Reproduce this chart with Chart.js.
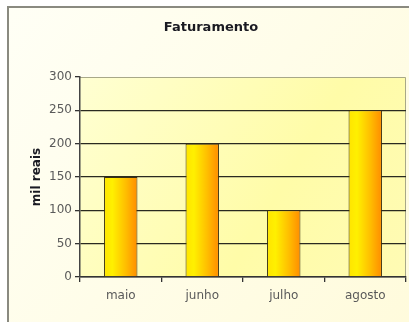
<!DOCTYPE html>
<html>
<head>
<meta charset="utf-8">
<script src="https://cdn.jsdelivr.net/npm/chart.js@4/dist/chart.umd.min.js"></script>
<style>
  html, body { margin: 0; padding: 0; background: #fff; }
  #wrap { width: 409px; height: 322px; }
</style>
</head>
<body>
<div id="wrap"><canvas id="chart" width="409" height="322"></canvas></div>
<script>
// Faturamento mensal (mil reais)
const meses = ['maio', 'junho', 'julho', 'agosto'];
const faturamento = [150, 200, 100, 250];
const yTicks = [0, 50, 100, 150, 200, 250, 300];

const BAR_PCT = 0.41;
const FONT = '"DejaVu Sans", Verdana, sans-serif';

// outer panel: cream fill, grey frame on left/top
const panelBg = {
    id: 'panelBg',
    beforeDraw(chart) {
        const { ctx, width, height } = chart;
        ctx.save();
        const g = ctx.createLinearGradient(0, 0, width, height);
        g.addColorStop(0, '#fffff6');
        g.addColorStop(1, '#fffbdc');
        ctx.fillStyle = g;
        ctx.fillRect(8, 7, width - 8, height - 7);
        ctx.strokeStyle = '#8a8a80';
        ctx.lineWidth = 2;
        ctx.beginPath();
        ctx.moveTo(8, height);
        ctx.lineTo(8, 7);
        ctx.lineTo(width, 7);
        ctx.stroke();

        // plot area fill
        const a = chart.chartArea;
        const pg = ctx.createLinearGradient(a.left, a.top, a.right, a.bottom);
        pg.addColorStop(0, '#ffffd2');
        pg.addColorStop(0.6, '#fffca8');
        pg.addColorStop(1, '#fffbb4');
        ctx.fillStyle = pg;
        ctx.fillRect(a.left, a.top, a.right - a.left, a.bottom - a.top);
        ctx.strokeStyle = '#a8a888';
        ctx.lineWidth = 1;
        ctx.beginPath();
        ctx.moveTo(a.left, a.top + 0.5);
        ctx.lineTo(a.right - 0.5, a.top + 0.5);
        ctx.lineTo(a.right - 0.5, a.bottom);
        ctx.stroke();

        // title
        ctx.fillStyle = '#1a1a22';
        ctx.font = 'bold 13px ' + FONT;
        ctx.textAlign = 'center';
        ctx.textBaseline = 'middle';
        ctx.fillText('Faturamento', 211, 28);
        ctx.restore();
    }
};

// yellow -> orange shading across each bar, from the x scale
function barShade(c) {
    const x = c.chart.scales.x;
    if (!x || c.dataIndex === undefined) return '#ffd000';
    const w = (x.right - x.left) / meses.length * BAR_PCT;
    const x0 = x.getPixelForValue(c.dataIndex) - w / 2;
    if (!isFinite(x0) || !isFinite(w) || w <= 0) return '#ffd000';
    const g = c.chart.ctx.createLinearGradient(x0, 0, x0 + w, 0);
    g.addColorStop(0, '#ffe400');
    g.addColorStop(0.25, '#fff000');
    g.addColorStop(0.65, '#ffbe00');
    g.addColorStop(1, '#ff8c00');
    return g;
}

new Chart(document.getElementById('chart'), {
    type: 'bar',
    data: {
        labels: meses,
        datasets: [{
            data: faturamento,
            backgroundColor: barShade,
            borderColor: '#3a3010',
            borderWidth: 1,
            barPercentage: BAR_PCT,
            categoryPercentage: 1
        }]
    },
    options: {
        responsive: false,
        animation: false,
        layout: { padding: { top: 77, left: 30, right: 3, bottom: 12 } },
        plugins: { legend: { display: false }, title: { display: false }, tooltip: { enabled: false } },
        scales: {
            x: {
                afterFit: s => { s.height = 33; },
                grid: { display: true, drawOnChartArea: false, offset: true, color: '#333', lineWidth: 1.3, tickLength: 5 },
                border: { color: '#333', width: 1.5 },
                ticks: { color: '#5a5a5a', padding: 7, font: { family: FONT, size: 12 } }
            },
            y: {
                min: 0,
                max: 300,
                afterFit: s => { s.width = 50; },
                afterBuildTicks: s => { s.ticks = yTicks.map(v => ({ value: v })); },
                grid: {
                    color: c => c.tick && c.tick.value === 300 ? 'rgba(0,0,0,0)' : '#2a2a20',
                    lineWidth: 1.3,
                    tickLength: 5,
                    tickColor: '#333'
                },
                border: { color: '#444', width: 1.5 },
                ticks: { color: '#5a5a5a', padding: 3, font: { family: FONT, size: 12 } },
                title: {
                    display: true,
                    text: 'mil reais',
                    color: '#1a1a22',
                    padding: { top: 0, bottom: 0 },
                    font: { family: FONT, size: 12, weight: 'bold' }
                }
            }
        }
    },
    plugins: [panelBg]
});
</script>
</body>
</html>
